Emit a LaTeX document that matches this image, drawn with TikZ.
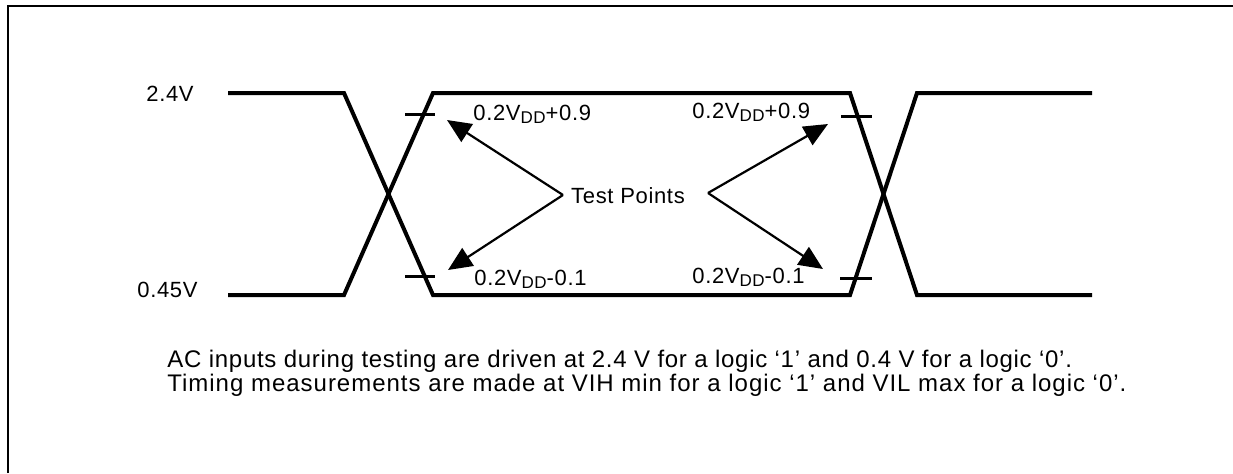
\documentclass[tikz,border=0pt]{standalone}
\usepackage{fontspec}
\setmainfont{Liberation Sans}[LetterSpace=3]
\usetikzlibrary{arrows.meta}
\tikzstyle{wave} = [line width=2pt, line join=miter]
\tikzstyle{mark line} = [line width=1.5pt]
\tikzstyle{pointer} = [line width=1.1pt, -{Triangle[length=12pt, width=10.5pt]}]
\tikzstyle{lvl} = [inner sep=0pt, anchor=base west, font=\fontsize{11}{13}\selectfont]
\tikzstyle{note} = [inner sep=0pt, anchor=base west, font=\fontsize{12}{14}\selectfont]
\newcommand{\vdd}{V\raisebox{-1.7pt}{\fontsize{8.5}{8.5}\selectfont DD}}

\begin{document}
\begin{tikzpicture}[x=0.5pt, y=-0.5pt]%
				\useasboundingbox (0,0) rectangle (1233,473);
				\draw[line width=1pt] (8,473) -- (8,6) -- (1233,6);
				% the two crossing inputs
				\draw[wave] (228,93) -- (344,93) -- (433,295) -- (850,295) -- (917,93) -- (1092,93);
				\draw[wave] (228,295) -- (344,295) -- (433,93) -- (850,93) -- (917,295) -- (1092,295);
				\draw[mark line] (405,114) -- (435,114);
				\draw[mark line] (405,276) -- (435,276);
				\draw[mark line] (841,116) -- (872,116);
				\draw[mark line] (840,278) -- (872,278);
				\node[lvl] (hi) at (146,101) {2.4V};
				\node[lvl] (lo) at (137,297) {0.45V};
	\node[lvl, anchor=center] (tp) at (628,196) {Test Points};
	\coordinate (tpl) at (563,195);
	\coordinate (tpr) at (708,193);
	\coordinate (hl) at (447,120);
	\coordinate (ll) at (448,270);
	\coordinate (hr) at (828,124);
	\coordinate (lr) at (823,269);
	\draw[pointer] (tpl) -- (hl);
	\draw[pointer] (tpl) -- (ll);
	\draw[pointer] (tpr) -- (hr);
	\draw[pointer] (tpr) -- (lr);
	\node[lvl] (hlt) at (473,120) {0.2\vdd+0.9};
	\node[lvl] (hrt) at (692,118) {0.2\vdd+0.9};
	\node[lvl] (llt) at (474,285) {0.2\vdd-0.1};
	\node[lvl] (lrt) at (692,283) {0.2\vdd-0.1};
	\node[note] (n1) at (167,367) {AC inputs during testing are driven at 2.4 V for a logic ‘1’ and 0.4 V for a logic ‘0’.};
	\node[note] (n2) at (167,391) {\addfontfeature{LetterSpace=4.1}Timing measurements are made at VIH min for a logic ‘1’ and VIL max for a logic ‘0’.};
	\end{tikzpicture}
\end{document}
